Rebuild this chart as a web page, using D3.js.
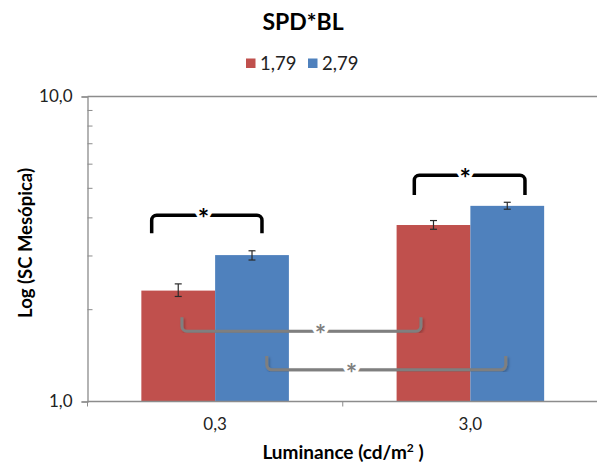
<!DOCTYPE html>
<head>
  <script src="https://cdn.jsdelivr.net/npm/d3@7"></script>
  <style>
    body { margin: 0; background: #fff; }
    text { font-family: Lato, "Open Sans", sans-serif; }
  </style>
</head>
<body>
  <svg width="597" height="466"></svg>
  <script>
    const categories = ["0,3", "3,0"];
    const series = ["1,79", "2,79"];
    const colors = ["#C0504D", "#4F81BD"];
    // bar heights per series, one per category
    const values = [[2.31, 3.79], [3.02, 4.38]];
    const errLow = [[2.21, 3.67], [2.91, 4.27]];
    const errHigh = [[2.43, 3.92], [3.12, 4.50]];
    const yTicks = [1, 10];
    const yTickLabels = ["1,0", "10,0"];
    const yMinor = [2, 3, 4, 5, 6, 7, 8, 9];

    // significance brackets: [category, series, fraction across bar]
    const brackets = [
      { a: ["0,3", "1,79", 0.14], b: ["0,3", "2,79", 0.635], y: 4.08, leg: 3.56, star: 0.47, kind: "black" },
      { a: ["3,0", "1,79", 0.24], b: ["3,0", "2,79", 0.74], y: 5.52, leg: 4.75, star: 0.46, kind: "black" },
      { a: ["0,3", "1,79", 0.55], b: ["3,0", "1,79", 0.33], y: 1.70, leg: 1.89, star: 0.58, kind: "grey" },
      { a: ["0,3", "2,79", 0.70], b: ["3,0", "2,79", 0.48], y: 1.27, leg: 1.41, star: 0.354, kind: "grey" }
    ];

    const svg = d3.select("svg");
    const mLeft = 87.5, mRight = 598, mTop = 96.5, mBottom = 401.5;

    const x0 = d3.scaleBand().domain(categories).range([mLeft, mRight]);
    const x1 = d3.scaleBand().domain(series).range([0, x0.bandwidth()]).paddingOuter(0.73);
    const y = d3.scaleLog().domain([1, 10]).range([mBottom, mTop]);

    const xAt = (p) => x0(p[0]) + x1(p[1]) + p[2] * x1.bandwidth();

    // top gridline
    svg.append("line")
      .attr("x1", mLeft).attr("x2", 597)
      .attr("y1", y(10)).attr("y2", y(10))
      .attr("stroke", "#8c8c8c").attr("stroke-width", 1.3);

    // bars
    series.forEach((s, si) => {
      svg.append("g").selectAll("rect")
        .data(categories)
        .join("rect")
        .attr("x", c => x0(c) + x1(s))
        .attr("width", x1.bandwidth())
        .attr("y", (c, ci) => y(values[si][ci]))
        .attr("height", (c, ci) => mBottom - y(values[si][ci]))
        .attr("fill", colors[si]);
    });

    // error bars
    series.forEach((s, si) => {
      const g = svg.append("g").attr("stroke", "#2a2a2a").attr("stroke-width", 1.2);
      categories.forEach((c, ci) => {
        const cx = x0(c) + x1(s) + x1.bandwidth() / 2;
        const y1 = y(errHigh[si][ci]), y2 = y(errLow[si][ci]);
        g.append("line").attr("x1", cx).attr("x2", cx).attr("y1", y1).attr("y2", y2);
        g.append("line").attr("x1", cx - 3.5).attr("x2", cx + 3.5).attr("y1", y1).attr("y2", y1);
        g.append("line").attr("x1", cx - 3.5).attr("x2", cx + 3.5).attr("y1", y2).attr("y2", y2);
      });
    });

    // y axis
    const yAxis = svg.append("g")
      .attr("transform", `translate(${mLeft},0)`)
      .call(d3.axisLeft(y).tickValues(yTicks).tickFormat((d, i) => yTickLabels[i]).tickSize(6).tickPadding(9));
    yAxis.select(".domain").attr("stroke", "#8c8c8c").attr("stroke-width", 1.3);
    yAxis.selectAll(".tick line").attr("stroke", "#8c8c8c");
    yAxis.selectAll(".tick text").attr("font-size", 17).attr("fill", "#222").attr("font-family", "Lato");
    svg.append("g").selectAll("line")
      .data(yMinor)
      .join("line")
      .attr("x1", mLeft).attr("x2", mLeft + 5)
      .attr("y1", d => y(d)).attr("y2", d => y(d))
      .attr("stroke", "#8c8c8c");

    // x axis
    const xAxis = svg.append("g")
      .attr("transform", `translate(0,${mBottom})`)
      .call(d3.axisBottom(x0).tickSize(0).tickPadding(16));
    xAxis.select(".domain").remove();
    xAxis.selectAll(".tick text").attr("font-size", 17).attr("fill", "#222").attr("font-family", "Lato");
    svg.append("line")
      .attr("x1", mLeft).attr("x2", 597)
      .attr("y1", mBottom).attr("y2", mBottom)
      .attr("stroke", "#8c8c8c").attr("stroke-width", 1.3);
    svg.append("g").selectAll("line")
      .data(categories)
      .join("line")
      .attr("x1", c => x0(c)).attr("x2", c => x0(c))
      .attr("y1", mBottom).attr("y2", mBottom + 5)
      .attr("stroke", "#8c8c8c");

    // shadow for grey brackets
    svg.append("defs").append("filter").attr("id", "sh")
      .append("feDropShadow")
      .attr("dx", 1.5).attr("dy", 1.5).attr("stdDeviation", 1)
      .attr("flood-color", "#000").attr("flood-opacity", 0.25);

    // brackets
    brackets.forEach(b => {
      const xa = xAt(b.a), xb = xAt(b.b);
      const yl = y(b.y), yg = y(b.leg);
      const r = 5;
      const dir = yg > yl ? 1 : -1;
      const p = d3.path();
      p.moveTo(xa, yg);
      p.arcTo(xa, yl, xa + r, yl, r);
      p.arcTo(xb, yl, xb, yl + dir * r, r);
      p.lineTo(xb, yg);
      const black = b.kind === "black";
      svg.append("path")
        .attr("d", p.toString())
        .attr("fill", "none")
        .attr("stroke", black ? "#000" : "#7f7f7f")
        .attr("stroke-width", black ? 3.5 : 3)
        .attr("filter", black ? null : "url(#sh)");
      svg.append("text")
        .attr("x", xa + b.star * (xb - xa))
        .attr("y", yl + 13)
        .attr("text-anchor", "middle")
        .attr("font-size", 27)
        .attr("font-weight", 700)
        .attr("fill", black ? "#000" : "#7f7f7f")
        .attr("stroke", "#fff").attr("stroke-width", 6)
        .attr("paint-order", "stroke")
        .text("*");
    });

    // title
    svg.append("text")
      .attr("x", 303).attr("y", 30)
      .attr("text-anchor", "middle")
      .attr("font-size", 23).attr("font-weight", 700).attr("fill", "#000")
      .text("SPD*BL");

    // legend
    const legend = svg.append("g");
    const legX = [246, 308];
    series.forEach((s, i) => {
      legend.append("rect")
        .attr("x", legX[i]).attr("y", 58.5)
        .attr("width", 9.5).attr("height", 9.5)
        .attr("fill", colors[i]);
      legend.append("text")
        .attr("x", legX[i] + 14).attr("y", 70)
        .attr("font-size", 18.5).attr("fill", "#222")
        .text(s);
    });

    // axis titles
    svg.append("text")
      .attr("transform", "translate(32,243) rotate(-90)")
      .attr("text-anchor", "middle")
      .attr("font-size", 18.5).attr("font-weight", 700).attr("fill", "#000")
      .text("Log (SC Mesópica)");

    const xt = svg.append("text")
      .attr("x", 343).attr("y", 459)
      .attr("text-anchor", "middle")
      .attr("font-size", 19).attr("font-weight", 700).attr("fill", "#000");
    xt.append("tspan").text("Luminance  (cd/m");
    xt.append("tspan").attr("dy", -7).attr("font-size", 12).text("2");
    xt.append("tspan").attr("dy", 7).text(" )");
  </script>
</body>
